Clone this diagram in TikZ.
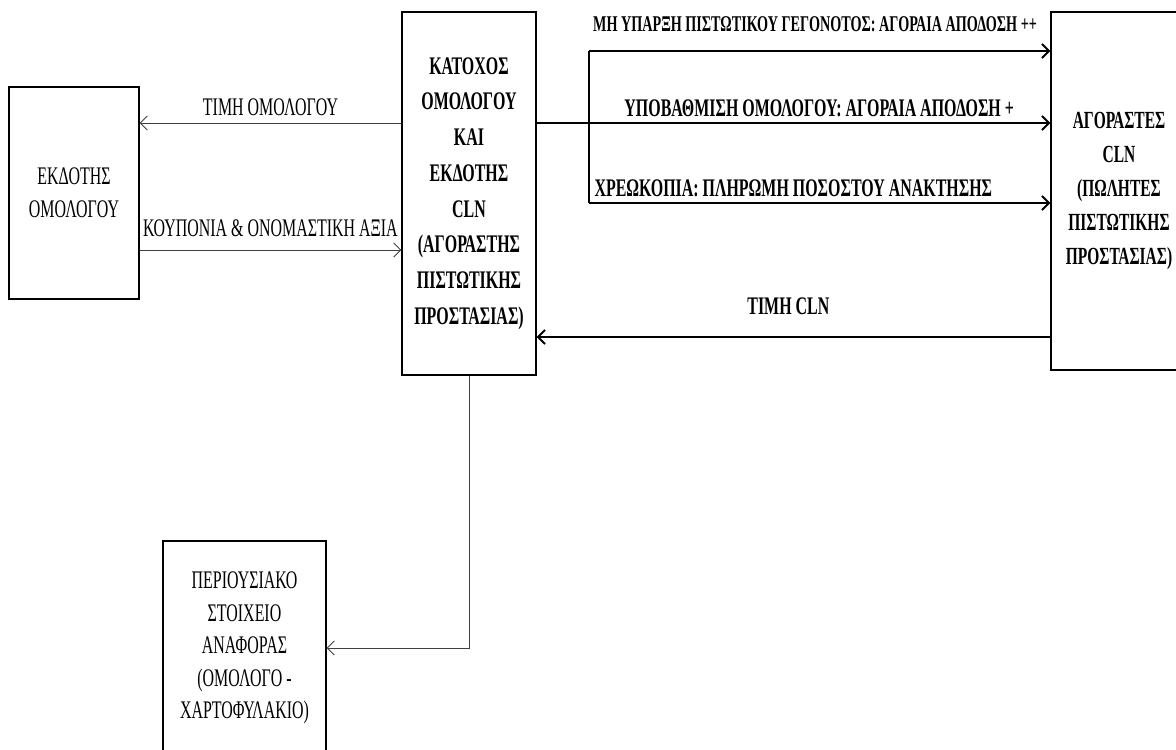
\documentclass[tikz,border=0pt]{standalone}
\usepackage{fontspec}
\setmainfont{Liberation Serif}[FakeStretch=0.63]
\usetikzlibrary{arrows.meta, positioning}

\tikzset{
  box/.style={draw, line width=1pt, align=center, inner sep=0pt},
  thinline/.style={draw=black!75, line width=0.6pt},
  thickline/.style={draw=black, line width=1.3pt},
  tip/.style={-{Straight Barb[length=5pt,width=10pt]}},
  lbl/.style={inner sep=0pt, font=\fontsize{18}{22}\selectfont},
  blbl/.style={inner sep=0pt, font=\bfseries\fontsize{18}{22}\selectfont},
}

\begin{document}
\begin{tikzpicture}[x=0.025cm, y=-0.025cm]

    \useasboundingbox (0,0) rectangle (1176,749);
    \clip (0,0) rectangle (1176,749);

    % boxes
    \node[box, minimum width=3.25cm, minimum height=5.3cm, font=\fontsize{18}{23.5}\selectfont] (issuer) at (74,193) {ΕΚΔΟΤΗΣ\\ΟΜΟΛΟΓΟΥ};
    \node[box, minimum width=3.35cm, minimum height=9.075cm, font=\bfseries\fontsize{18}{25.4}\selectfont] (holder) at (469,193.5) {ΚΑΤΟΧΟΣ\\ΟΜΟΛΟΓΟΥ\\ΚΑΙ\\ΕΚΔΟΤΗΣ\\CLN\\(ΑΓΟΡΑΣΤΗΣ\\ΠΙΣΤΩΤΙΚΗΣ\\ΠΡΟΣΤΑΣΙΑΣ)};
    \node[box, minimum width=3.4cm, minimum height=8.95cm, font=\bfseries\fontsize{17.5}{24.2}\selectfont] (buyers) at (1119,191) {ΑΓΟΡΑΣΤΕΣ\\CLN\\(ΠΩΛΗΤΕΣ\\ΠΙΣΤΩΤΙΚΗΣ\\ΠΡΟΣΤΑΣΙΑΣ)};
    \node[box, minimum width=4.075cm, minimum height=5.35cm, font=\fontsize{18}{23.1}\selectfont] (asset) at (244.5,648) {ΠΕΡΙΟΥΣΙΑΚΟ\\ΣΤΟΙΧΕΙΟ\\ΑΝΑΦΟΡΑΣ\\(ΟΜΟΛΟΓΟ -\\ΧΑΡΤΟΦΥΛΑΚΙΟ)};

    % rows of the arrows
    \coordinate (rowA) at (0,51);
    \coordinate (rowB) at (0,123);
    \coordinate (rowC) at (0,203);
    \coordinate (rowD) at (0,250);
    \coordinate (rowE) at (0,337);
    \coordinate (fork) at (589,0);

    \draw[thinline, tip] (holder.west |- rowB) -- node[lbl, above=5pt] {ΤΙΜΗ ΟΜΟΛΟΓΟΥ} (issuer.east |- rowB);
    \draw[thinline, tip] (issuer.east |- rowD) -- node[lbl, above=9pt] {ΚΟΥΠΟΝΙΑ \& ΟΝΟΜΑΣΤΙΚΗ ΑΞΙΑ} (holder.west |- rowD);

    \draw[thickline] (fork |- rowA) -- (fork |- rowC);
    \draw[thickline, tip] (fork |- rowA) -- node[blbl, font=\bfseries\fontsize{16}{18}\selectfont, above=13pt, pos=0.49] {ΜΗ ΥΠΑΡΞΗ ΠΙΣΤΩΤΙΚΟΥ ΓΕΓΟΝΟΤΟΣ: ΑΓΟΡΑΙΑ ΑΠΟΔΟΣΗ ++} (buyers.west |- rowA);
    \draw[thickline, tip] (holder.east |- rowB) -- node[blbl, above=4pt, pos=0.55] {ΥΠΟΒΑΘΜΙΣΗ ΟΜΟΛΟΓΟΥ: ΑΓΟΡΑΙΑ ΑΠΟΔΟΣΗ +} (buyers.west |- rowB);
    \draw[thickline, tip] (fork |- rowC) -- node[blbl, above=3.5pt, pos=0.01, anchor=south west] {ΧΡΕΩΚΟΠΙΑ: ΠΛΗΡΩΜΗ ΠΟΣΟΣΤΟΥ ΑΝΑΚΤΗΣΗΣ} (buyers.west |- rowC);
    \draw[thickline, tip] (buyers.west |- rowE) -- node[blbl, above=15pt, pos=0.51] {ΤΙΜΗ CLN} (holder.east |- rowE);

    \draw[thinline, tip] (holder.south) |- (asset.east);

\end{tikzpicture}
\end{document}
